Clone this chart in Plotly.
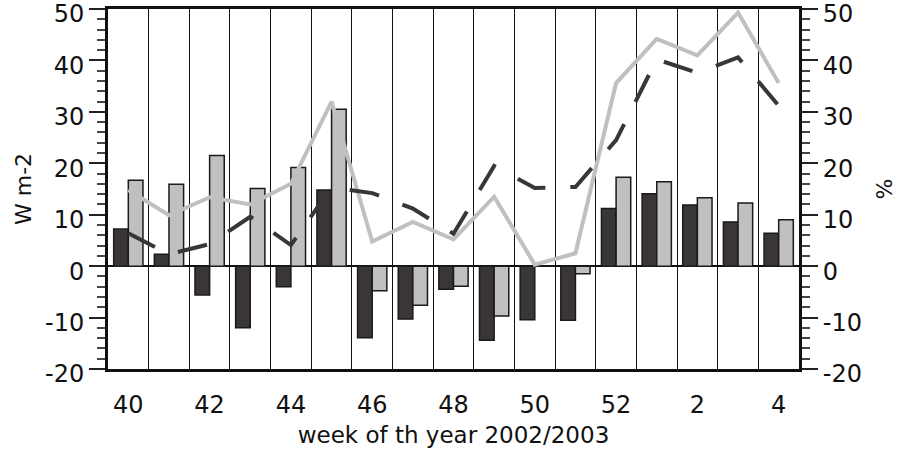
import plotly.graph_objects as go

# weeks of 2002/2003
WEEKS = ["40", "41", "42", "43", "44", "45", "46", "47", "48", "49", "50",
         "51", "52", "1", "2", "3", "4"]
WEEK_LABELS = ["40", "", "42", "", "44", "", "46", "", "48", "", "50",
               "", "52", "", "2", "", "4"]

# bars (W m-2)
DARK_BARS = [7.2, 2.3, -5.6, -12.0, -4.0, 14.8, -13.9, -10.3, -4.5, -14.4,
             -10.4, -10.5, 11.2, 14.1, 11.9, 8.6, 6.4]
GREY_BARS = [16.7, 15.9, 21.5, 15.1, 19.2, 30.5, -4.8, -7.6, -3.9, -9.7,
             0.0, -1.5, 17.3, 16.4, 13.3, 12.3, 9.0]

# lines (%)
GREY_LINE = [14.8, 9.9, 13.4, 12.0, 16.0, 32.0, 4.8, 8.6, 5.2, 13.5,
             0.3, 2.5, 35.6, 44.2, 41.0, 49.3, 35.6]
DASH_LINE = [6.4, 2.3, 4.3, 9.6, 4.1, 15.3, 14.2, 11.2, 6.3, 19.5,
             15.2, 15.4, 24.5, 40.2, 37.6, 40.6, 31.2]

Y_TICKS = [-20, -10, 0, 10, 20, 30, 40, 50]
Y_TEXT = ["-20", "-10", "0", "10", "20", "30", "40", "50"]

DARK = "#3a3536"
GREY = "#c0c0c0"
FONT = "DejaVu Sans"

fig = go.Figure()
fig.add_trace(go.Bar(x=WEEKS, y=DARK_BARS, marker=dict(color=DARK, line=dict(color="#1a1a1a", width=1.5))))
fig.add_trace(go.Bar(x=WEEKS, y=GREY_BARS, marker=dict(color=GREY, line=dict(color="#1a1a1a", width=1.5))))
fig.add_trace(go.Scatter(x=WEEKS, y=GREY_LINE, mode="lines", yaxis="y2",
                         line=dict(color=GREY, width=4)))
fig.add_trace(go.Scatter(x=WEEKS, y=DASH_LINE, mode="lines", yaxis="y2",
                         line=dict(color=DARK, width=4, dash="30px,25px")))

_yax = dict(
    range=[-20, 50], tickvals=Y_TICKS, ticktext=Y_TEXT, showgrid=False,
    ticks="outside", ticklen=16, tickwidth=2, tickcolor="#222",
    minor=dict(dtick=2, ticks="outside", ticklen=8, tickwidth=1.5, tickcolor="#444"),
    showline=True, linecolor="#111", linewidth=3, automargin=False,
    ticklabeloverflow="allow", ticklabelshift=5,
    tickfont=dict(family=FONT, size=24, color="#111"),
)

fig.update_layout(
    width=901, height=455, showlegend=False,
    plot_bgcolor="white", paper_bgcolor="white",
    margin=dict(l=108, r=102, t=9, b=86),
    barmode="group", bargap=0.28, bargroupgap=0,
    xaxis=dict(
        type="category", categoryorder="array", categoryarray=WEEKS,
        tickvals=WEEKS, ticktext=WEEK_LABELS, tickson="boundaries",
        ticks="", showgrid=True, gridcolor="#111", gridwidth=1,
        showline=True, linecolor="#111", linewidth=3, mirror=True,
        ticklabelstandoff=12, automargin=False,
        tickfont=dict(family=FONT, size=24, color="#111"),
        title=dict(text="week of th year 2002/2003", standoff=10,
                   font=dict(family=FONT, size=23, color="#111")),
    ),
    yaxis=dict(**_yax, zeroline=True, zerolinecolor="#111", zerolinewidth=2,
               title=dict(text="W m-2", standoff=8,
                          font=dict(family=FONT, size=22, color="#111"))),
    yaxis2=dict(**_yax, overlaying="y", side="right", zeroline=False,
                title=dict(text="%", standoff=16,
                           font=dict(family=FONT, size=22, color="#111"))),
)

# the page has a default 8px body margin; drop it so the figure sits at 0,0
fig.write_html("out.html", config={"displayModeBar": False},
               post_script="document.body.style.margin='0';")
